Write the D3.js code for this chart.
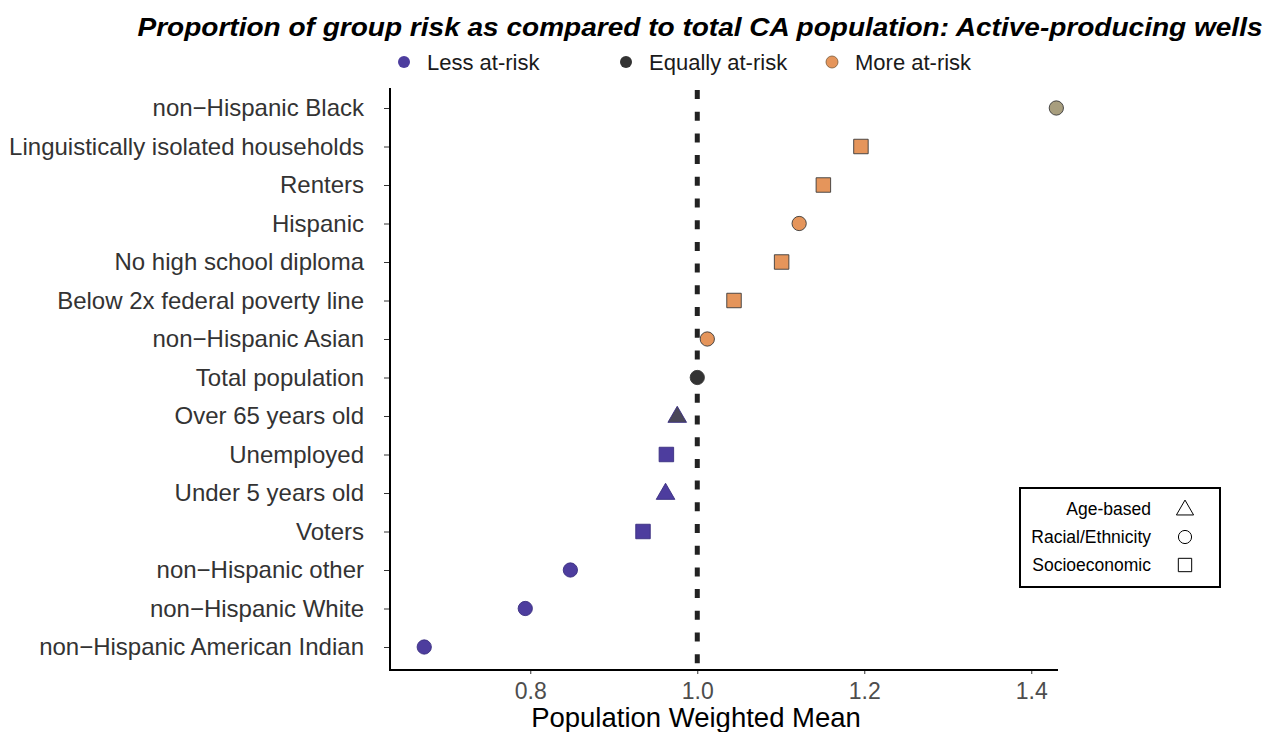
<!DOCTYPE html>
<html>
<head>
<meta charset="utf-8">
<script src="https://cdn.jsdelivr.net/npm/d3@7"></script>
<style>
  html, body { margin: 0; padding: 0; background: #fff; }
  svg { display: block; }
</style>
</head>
<body>
<svg id="chart" width="1270" height="732"></svg>
<script>
// Groups, top to bottom
const groups = [
  "non\u2212Hispanic Black",
  "Linguistically isolated households",
  "Renters",
  "Hispanic",
  "No high school diploma",
  "Below 2x federal poverty line",
  "non\u2212Hispanic Asian",
  "Total population",
  "Over 65 years old",
  "Unemployed",
  "Under 5 years old",
  "Voters",
  "non\u2212Hispanic other",
  "non\u2212Hispanic White",
  "non\u2212Hispanic American Indian"
];
// Population weighted mean relative to total population
const weightedMean = [1.430, 1.196, 1.151, 1.122, 1.101, 1.044, 1.012, 1.000,
                      0.976, 0.963, 0.962, 0.935, 0.848, 0.794, 0.673];
// Group type
const groupType = ["Racial/Ethnicity", "Socioeconomic", "Socioeconomic", "Racial/Ethnicity",
                   "Socioeconomic", "Socioeconomic", "Racial/Ethnicity", "Racial/Ethnicity",
                   "Age-based", "Socioeconomic", "Age-based", "Socioeconomic",
                   "Racial/Ethnicity", "Racial/Ethnicity", "Racial/Ethnicity"];
// Risk class
const riskClass = ["More", "More", "More", "More", "More", "More", "More", "Equal",
                   "Less", "Less", "Less", "Less", "Less", "Less", "Less"];

const riskLabels = ["Less at-risk", "Equally at-risk", "More at-risk"];
const typeLabels = ["Age-based", "Racial/Ethnicity", "Socioeconomic"];
const xTicks = [0.8, 1.0, 1.2, 1.4];

const rows = groups.map((g, i) => ({
  group: g, value: weightedMean[i], type: groupType[i], risk: riskClass[i]
}));

const svg = d3.select("#chart");
const plotLeft = 390, plotRight = 1058, plotTop = 88, plotBottom = 670;
const font = "'Liberation Sans', Arial, sans-serif";

const x = d3.scaleLinear().domain([0.632, 1.432]).range([plotLeft, plotRight]);
const y = d3.scalePoint().domain(groups).range([108, 647]);

const riskColor = d3.scaleOrdinal()
  .domain(["Less", "Equal", "More"])
  .range(["#4d3d9e", "#333333", "#e5955b"]);
// a couple of points render in blended tones
const toneOverride = { "non\u2212Hispanic Black": "#a89e7e", "Over 65 years old": "#4a4758" };

const shapeOf = d3.scaleOrdinal()
  .domain(typeLabels)
  .range([d3.symbolTriangle, d3.symbolCircle, d3.symbolSquare]);
const sizeOf = d3.scaleOrdinal()
  .domain(typeLabels)
  .range([150, 160, 210]);

// Title
svg.append("text")
  .attr("x", 700).attr("y", 36)
  .attr("text-anchor", "middle")
  .attr("font-family", "'Liberation Sans Narrow', 'Arial Narrow', 'Liberation Sans', sans-serif")
  .attr("font-weight", "bold").attr("font-style", "italic")
  .attr("font-size", 25).attr("fill", "#000")
  .attr("textLength", 1125).attr("lengthAdjust", "spacingAndGlyphs")
  .text("Proportion of group risk as compared to total CA population: Active-producing wells");

// Risk legend
const legX = [404, 626, 832];
const riskKeys = ["Less", "Equal", "More"];
riskLabels.forEach((lab, i) => {
  svg.append("circle").attr("cx", legX[i]).attr("cy", 62).attr("r", 6)
    .attr("fill", riskColor(riskKeys[i]))
    .attr("stroke", i === 2 ? "#7a5a3a" : "none").attr("stroke-width", 0.8);
  svg.append("text").attr("x", legX[i] + 23).attr("y", 70)
    .attr("font-family", font)
    .attr("font-size", 22).attr("fill", "#1a1a1a").text(lab);
});

// Reference line at 1.0
svg.append("line")
  .attr("x1", x(1)).attr("x2", x(1))
  .attr("y1", plotTop + 2).attr("y2", plotBottom)
  .attr("stroke", "#222").attr("stroke-width", 5)
  .attr("stroke-dasharray", "9,12.7");

// Axes
const yAxis = d3.axisLeft(y).tickSize(6).tickPadding(20);
const gy = svg.append("g").attr("transform", `translate(${plotLeft},0)`).call(yAxis);
gy.select(".domain").remove();
gy.selectAll(".tick line").attr("stroke", "#333").attr("stroke-width", 1);
gy.selectAll(".tick text")
  .attr("font-family", font)
  .attr("font-size", 24).attr("fill", "#333");

const xAxis = d3.axisBottom(x).tickValues(xTicks).tickFormat(d3.format(".1f")).tickSize(4).tickPadding(9);
const gx = svg.append("g").attr("transform", `translate(0,${plotBottom})`).call(xAxis);
gx.select(".domain").remove();
gx.selectAll(".tick line").attr("stroke", "#333");
gx.selectAll(".tick text")
  .attr("font-family", font)
  .attr("font-size", 23).attr("fill", "#4d4d4d");

// Axis lines
svg.append("line").attr("x1", plotLeft).attr("x2", plotLeft).attr("y1", plotTop).attr("y2", plotBottom + 1)
  .attr("stroke", "#000").attr("stroke-width", 2);
svg.append("line").attr("x1", plotLeft - 1).attr("x2", plotRight).attr("y1", plotBottom).attr("y2", plotBottom)
  .attr("stroke", "#000").attr("stroke-width", 2);

svg.append("text")
  .attr("x", 696).attr("y", 727)
  .attr("text-anchor", "middle")
  .attr("font-family", font)
  .attr("font-size", 27.5).attr("fill", "#000")
  .text("Population Weighted Mean");

// Points
svg.append("g").selectAll("path").data(rows).join("path")
  .attr("transform", d => `translate(${x(d.value)},${y(d.group) + (d.type === "Age-based" ? 1 : 0)})`)
  .attr("d", d => d3.symbol().type(shapeOf(d.type)).size(sizeOf(d.type))())
  .attr("fill", d => toneOverride[d.group] || riskColor(d.risk))
  .attr("stroke", d => d.risk === "Less" ? "#3a2f80" : "#3a3a3a")
  .attr("stroke-width", 0.9);

// Shape legend
const box = svg.append("g");
box.append("rect").attr("x", 1020).attr("y", 488).attr("width", 200).attr("height", 99)
  .attr("fill", "#fff").attr("stroke", "#000").attr("stroke-width", 2);
typeLabels.forEach((lab, i) => {
  const cy = 509 + i * 28;
  box.append("text").attr("x", 1151).attr("y", cy + 6)
    .attr("text-anchor", "end")
    .attr("font-family", font)
    .attr("font-size", 17.5).attr("fill", "#000").text(lab);
  box.append("path")
    .attr("transform", `translate(1185,${cy + (lab === "Age-based" ? 1 : 0)})`)
    .attr("d", d3.symbol().type(shapeOf(lab)).size(sizeOf(lab) * 0.85)())
    .attr("fill", "none").attr("stroke", "#000").attr("stroke-width", 1);
});
</script>
</body>
</html>
